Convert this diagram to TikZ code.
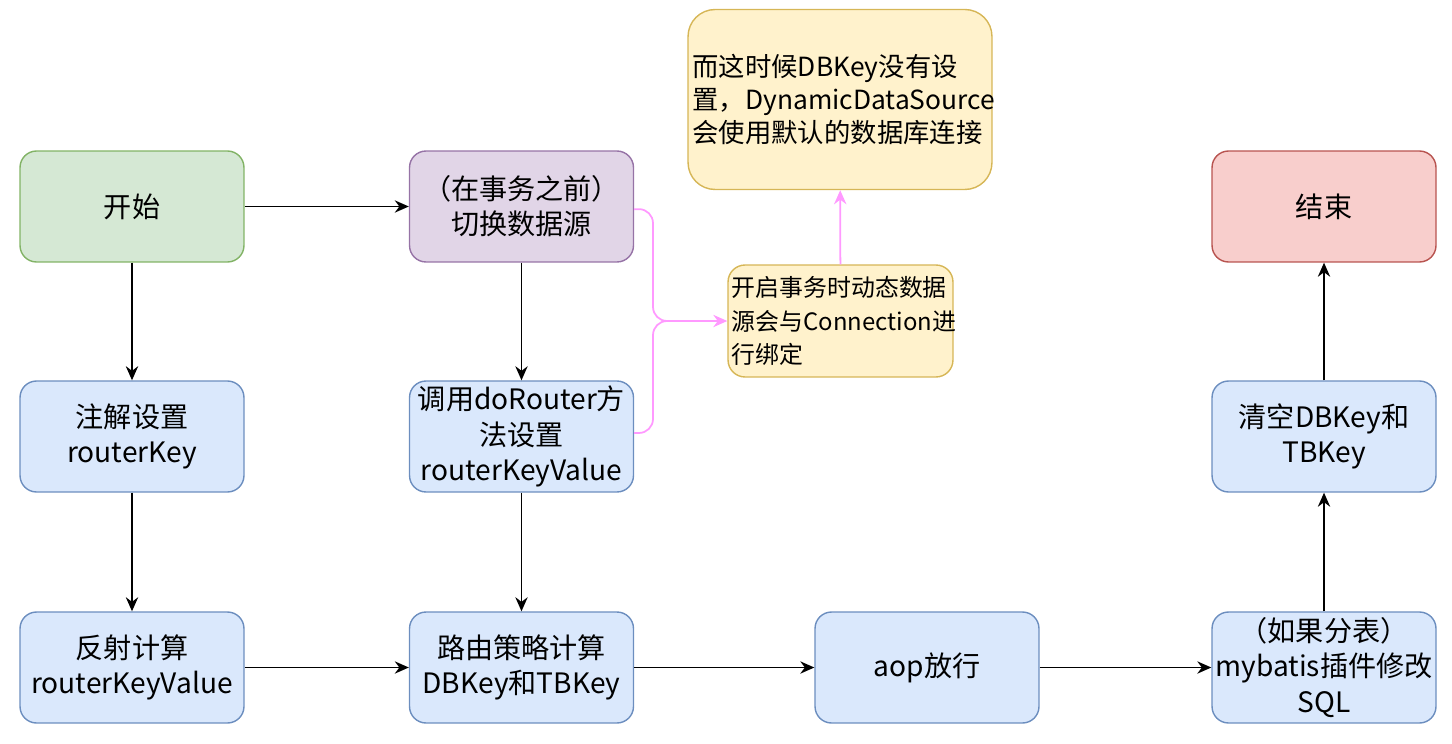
\documentclass[tikz,border=0pt]{standalone}
\usepackage{fontspec}
\setmainfont{Noto Sans CJK SC}
\usetikzlibrary{arrows.meta}
\definecolor{greenFill}{HTML}{D5E8D4}
\definecolor{greenLine}{HTML}{82B366}
\definecolor{purpleFill}{HTML}{E1D5E7}
\definecolor{purpleLine}{HTML}{9673A6}
\definecolor{redFill}{HTML}{F8CECC}
\definecolor{redLine}{HTML}{B85450}
\definecolor{blueFill}{HTML}{DAE8FC}
\definecolor{blueLine}{HTML}{6C8EBF}
\definecolor{yellowFill}{HTML}{FFF2CC}
\definecolor{yellowLine}{HTML}{D6B656}
\definecolor{braceColor}{HTML}{FF99FF}
\begin{document}
\begin{tikzpicture}[x=0.02cm, y=-0.02cm,
    box/.style={draw, line width=0.8pt, rounded corners=0.33cm, minimum width=4.48cm,
                minimum height=2.22cm, align=center, inner sep=1pt,
                font=\fontsize{16}{20}\selectfont},
    startbox/.style={box, fill=greenFill, draw=greenLine},
    txbox/.style={box, fill=purpleFill, draw=purpleLine},
    endbox/.style={box, fill=redFill, draw=redLine},
    stepbox/.style={box, fill=blueFill, draw=blueLine},
    note/.style={draw=yellowLine, fill=yellowFill, line width=0.8pt, align=left,
                 inner xsep=2pt, inner ysep=1pt},
    link/.style={-{Stealth[length=8pt,width=7pt]}, line width=1pt},
    pinklink/.style={-{Stealth[length=8pt,width=7pt]}, line width=1pt, draw=braceColor}]
  \useasboundingbox (0,0) rectangle (1452,743);

                   \node[startbox] (start) at (132,206.5) {开始};
                   \node[txbox] (preTx) at (521.5,206.5) {（在事务之前）\\切换数据源};
                   \node[endbox] (finish) at (1324,206.5) {结束};

                   \node[stepbox] (annot) at (132,436.5) {注解设置\\routerKey};
                   \node[stepbox] (callRouter) at (521.5,436.5) {调用doRouter方\\法设置\\routerKeyValue};
                   \node[stepbox] (clearKey) at (1324,436.5) {清空DBKey和\\TBKey};

                   \node[stepbox] (reflect) at (132,667.5) {反射计算\\routerKeyValue};
                   \node[stepbox] (strategy) at (521.5,667.5) {路由策略计算\\DBKey和TBKey};
                   \node[stepbox] (aopPass) at (927,667.5) {aop放行};
                   \node[stepbox] (plugin) at (1324,667.5) {（如果分表）\\mybatis插件修改\\SQL};

                   \node[note, rounded corners=0.54cm, minimum width=6.08cm, minimum height=3.6cm,
                         text width=5.9cm, font=\fontsize{15}{19}\selectfont] (dbNote) at (840,99.5)
                         {而这时候DBKey没有设\\置，DynamicDataSource\\会使用默认的数据库连接};
                   \node[note, rounded corners=0.34cm, minimum width=4.5cm, minimum height=2.24cm,
                         text width=4.35cm, font=\fontsize{13.6}{19}\selectfont] (bindNote) at (840.5,321)
                         {开启事务时动态数据\\源会与Connection进\\行绑定};

                   \coordinate (brace) at (653,321);
                   \coordinate (tip) at (670,321);

                   \draw[link] (start) -- (preTx);
                   \draw[link] (start) -- (annot);
                   \draw[link] (annot) -- (reflect);
                   \draw[link] (reflect) -- (strategy);
                   \draw[link] (preTx) -- (callRouter);
                   \draw[link] (callRouter) -- (strategy);
                   \draw[link] (strategy) -- (aopPass);
                   \draw[link] (aopPass) -- (plugin);
                   \draw[link] (plugin) -- (clearKey);
                   \draw[link] (clearKey) -- (finish);

                   \draw[braceColor, line width=1pt, rounded corners=8pt]
                        ([yshift=-1.5pt]preTx.east) -| (brace) -- (tip);
                   \draw[braceColor, line width=1pt, rounded corners=8pt]
                        ([yshift=2pt]callRouter.east) -| (brace) -- (tip);
                   \draw[pinklink] (tip) -- (bindNote);
                   \draw[pinklink] (bindNote) -- (dbNote);

        \end{tikzpicture}
\end{document}
